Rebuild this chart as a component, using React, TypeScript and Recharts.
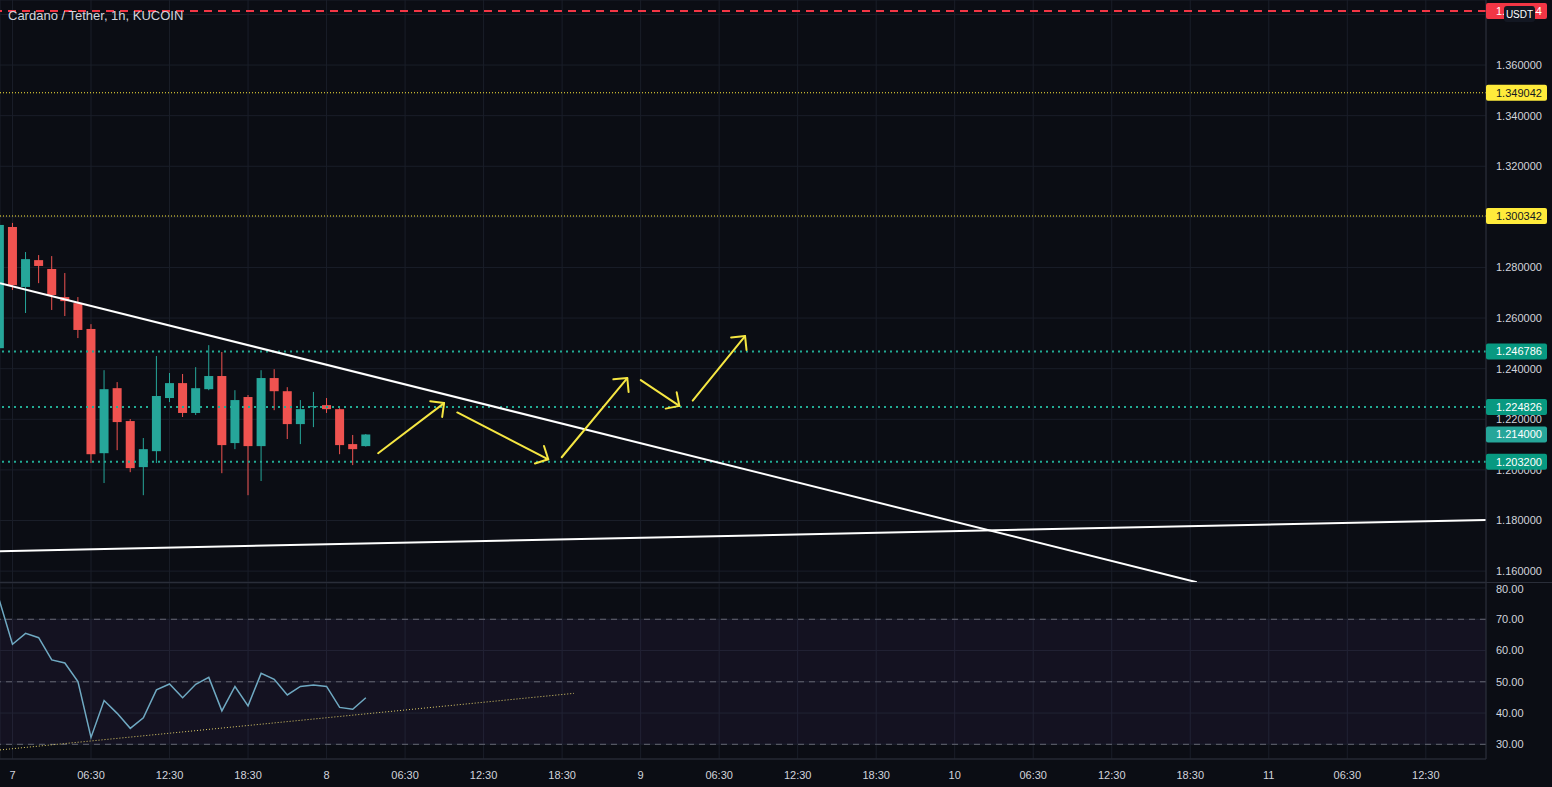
import { ComposedChart, Bar, Line, XAxis, YAxis, CartesianGrid, ReferenceLine, ReferenceArea } from 'recharts';

// ---- time axis (hours from day 7 00:00) ----
const X_MIN = -0.955;
const X_MAX = 112.6;
const xTicks = [0, 6, 12, 18, 24, 30, 36, 42, 48, 54, 60, 66, 72, 78, 84, 90, 96, 102, 108];
const xTickLabels = ['7', '06:30', '12:30', '18:30', '8', '06:30', '12:30', '18:30', '9', '06:30', '12:30', '18:30', '10', '06:30', '12:30', '18:30', '11', '06:30', '12:30'];

// ---- candles ----
const hours = [-1, 0, 1, 2, 3, 4, 5, 6, 7, 8, 9, 10, 11, 12, 13, 14, 15, 16, 17, 18, 19, 20, 21, 22, 23, 24, 25, 26, 27];
const opens = [1.2481, 1.296, 1.2723, 1.2829, 1.2794, 1.2683, 1.2659, 1.2557, 1.2066, 1.2323, 1.2193, 1.2011, 1.2074, 1.2284, 1.2343, 1.2225, 1.2319, 1.2371, 1.2106, 1.2288, 1.2094, 1.2363, 1.2311, 1.2181, 1.2248, 1.2256, 1.224, 1.2102, 1.2094];
const highs = [1.2975, 1.2976, 1.2861, 1.2849, 1.2845, 1.2778, 1.2683, 1.2576, 1.2394, 1.2347, 1.2201, 1.2126, 1.245, 1.2383, 1.2379, 1.2406, 1.2493, 1.2466, 1.2315, 1.2296, 1.2394, 1.2398, 1.2327, 1.2276, 1.2308, 1.2284, 1.2244, 1.2138, 1.2142];
const lows = [1.2475, 1.2711, 1.262, 1.2738, 1.2632, 1.2608, 1.2521, 1.2027, 1.1948, 1.2078, 1.1991, 1.19, 1.2027, 1.2268, 1.2209, 1.2217, 1.2315, 1.1987, 1.2082, 1.19, 1.1956, 1.2236, 1.2122, 1.2102, 1.2169, 1.2225, 1.2062, 1.2019, 1.2092];
const closes = [1.2968, 1.273, 1.2833, 1.2806, 1.2691, 1.2667, 1.2553, 1.2062, 1.2319, 1.2189, 1.2007, 1.2082, 1.2292, 1.2343, 1.2225, 1.2323, 1.2371, 1.2098, 1.2276, 1.2094, 1.2363, 1.2311, 1.2181, 1.224, 1.2252, 1.224, 1.2098, 1.2082, 1.214];

// ---- RSI ----
const rsiValues = [76.0, 62.0, 65.5, 64.1, 57.0, 56.0, 50.1, 32.2, 44.0, 39.9, 35.1, 38.5, 47.4, 49.3, 44.9, 49.2, 51.4, 40.7, 48.5, 42.3, 52.7, 50.8, 45.8, 48.5, 49.0, 48.5, 41.8, 41.2, 44.9];
const rsiTicks = [30, 40, 50, 60, 70, 80];
const rsiBands = [30, 50, 70];
const rsiTrend = [{ t: -0.955, v: 28.2 }, { t: 42.9, v: 46.3 }];

// ---- price axis & levels ----
const PRICE_DOMAIN = [1.1557, 1.3857];
const priceTicks = [1.16, 1.18, 1.2, 1.22, 1.24, 1.26, 1.28, 1.3, 1.32, 1.34, 1.36, 1.38];
const yellowLevels = [1.349042, 1.300342];
const greenLevels = [1.246786, 1.224826, 1.2032];
const lastPrice = 1.214;
const alertPrice = 1.381344;

// ---- drawings (time, price) ----
const trendDown = [{ t: -0.955, p: 1.2738 }, { t: 90.5, p: 1.1556 }];
const trendFlat = [{ t: -0.955, p: 1.1679 }, { t: 112.6, p: 1.1802 }];
const arrows = [
  [{ t: 27.94, p: 1.2066 }, { t: 32.98, p: 1.2264 }],
  [{ t: 33.99, p: 1.2227 }, { t: 40.94, p: 1.2042 }],
  [{ t: 41.97, p: 1.205 }, { t: 46.98, p: 1.2363 }],
  [{ t: 48.01, p: 1.2355 }, { t: 50.96, p: 1.2253 }],
  [{ t: 51.98, p: 1.2274 }, { t: 55.98, p: 1.2529 }],
];

const BG = '#0b0d14';
const GRID = '#1a1e29';
const BORDER = '#2a2e39';
const TEXT = '#d1d4dc';
const UP = '#26a69a';
const DOWN = '#ef5350';
const FONT = '"Liberation Sans", Arial, sans-serif';

const candles = hours.map((t, i) => ({
  t,
  range: [lows[i], highs[i]],
  open: opens[i],
  close: closes[i],
  high: highs[i],
  low: lows[i],
}));

const rsiData = hours.map((t, i) => ({ t, rsi: rsiValues[i] }));

function Candle(props: any) {
  const { x, y, width, height, payload } = props;
  if (x == null || y == null) return null;
  const span = payload.high - payload.low || 1e-9;
  const k = height / span;
  const yOpen = y + (payload.high - payload.open) * k;
  const yClose = y + (payload.high - payload.close) * k;
  const up = payload.close >= payload.open;
  const color = up ? UP : DOWN;
  const top = Math.min(yOpen, yClose);
  const h = Math.max(1, Math.abs(yOpen - yClose));
  const cx = x + width / 2;
  return (
    <g>
      <line x1={cx} x2={cx} y1={y} y2={y + height} stroke={color} strokeWidth={1} />
      <rect x={x} y={top} width={width} height={h} fill={color} />
    </g>
  );
}

function ArrowShape(props: any) {
  const { x1, y1, x2, y2 } = props;
  if ([x1, y1, x2, y2].some((v) => v == null || Number.isNaN(v))) return null;
  const a = Math.atan2(y2 - y1, x2 - x1);
  const len = 14;
  const w1x = x2 - len * Math.cos(a - Math.PI / 4);
  const w1y = y2 - len * Math.sin(a - Math.PI / 4);
  const w2x = x2 - len * Math.cos(a + Math.PI / 4);
  const w2y = y2 - len * Math.sin(a + Math.PI / 4);
  return (
    <g stroke="#f5e642" strokeWidth={2} fill="none" strokeLinecap="round" strokeLinejoin="round">
      <line x1={x1} y1={y1} x2={x2} y2={y2} />
      <polyline points={`${w1x},${w1y} ${x2},${y2} ${w2x},${w2y}`} />
    </g>
  );
}

const priceTag = (text: string, bg: string, fg: string) => (props: any) => {
  const vb = props.viewBox || {};
  const x = (vb.x ?? 0) + (vb.width ?? 0);
  const y = vb.y ?? 0;
  return (
    <g>
      <rect x={x} y={y - 8} width={61} height={16} fill={bg} rx={2} />
      <text x={x + 10} y={y} dy="0.36em" fill={fg} fontSize={11} fontFamily={FONT}>
        {text}
      </text>
    </g>
  );
};

const alertTag = (props: any) => {
  const vb = props.viewBox || {};
  const x = (vb.x ?? 0) + (vb.width ?? 0);
  const y = vb.y ?? 0;
  return (
    <g>
      <rect x={x} y={y - 8} width={61} height={16} fill="#f23645" rx={2} />
      <text x={x + 10} y={y} dy="0.36em" fill="#ffffff" fontSize={11} fontFamily={FONT}>
        {alertPrice.toFixed(6)}
      </text>
      <rect x={x + 18} y={y - 5} width={31} height={16} fill="#131722" rx={3} />
      <text x={x + 33.5} y={y + 3} dy="0.36em" fill="#ffffff" fontSize={10} fontFamily={FONT} textAnchor="middle">
        USDT
      </text>
    </g>
  );
};

export default function App() {
  return (
    <div style={{ position: 'absolute', left: 0, top: 0, width: 1552, height: 787, background: BG, overflow: 'hidden', fontFamily: FONT }}>
      <ComposedChart width={1552} height={582} data={candles} margin={{ top: 0, right: 0, left: 0, bottom: 0 }} style={{ background: BG }}>
        <CartesianGrid stroke={GRID} strokeWidth={1} />
        <XAxis type="number" dataKey="t" domain={[X_MIN, X_MAX]} ticks={xTicks} allowDataOverflow hide />
        <YAxis
          orientation="right"
          width={66}
          type="number"
          domain={PRICE_DOMAIN}
          ticks={priceTicks}
          allowDataOverflow
          tickFormatter={(v: number) => v.toFixed(6)}
          tick={{ fill: TEXT, fontSize: 11, fontFamily: FONT }}
          tickLine={false}
          tickMargin={4}
          axisLine={{ stroke: BORDER }}
        />
        <ReferenceLine y={alertPrice} stroke="#f23645" strokeWidth={2} strokeDasharray="8 6" />
        {yellowLevels.map((p) => (
          <ReferenceLine key={p} y={p} stroke="#ffeb3b" strokeWidth={1} strokeDasharray="1 2" />
        ))}
        {greenLevels.map((p) => (
          <ReferenceLine key={p} y={p} stroke="#22ab94" strokeWidth={2} strokeDasharray="2 4" />
        ))}
        <Bar dataKey="range" barSize={9} shape={<Candle />} isAnimationActive={false} />
        <ReferenceLine segment={trendDown.map((d) => ({ x: d.t, y: d.p }))} stroke="#ffffff" strokeWidth={2} ifOverflow="hidden" />
        <ReferenceLine segment={trendFlat.map((d) => ({ x: d.t, y: d.p }))} stroke="#ffffff" strokeWidth={2} ifOverflow="hidden" />
        {arrows.map((seg, i) => (
          <ReferenceLine key={i} segment={seg.map((d) => ({ x: d.t, y: d.p }))} shape={ArrowShape} ifOverflow="visible" />
        ))}
      </ComposedChart>

      {/* price tags drawn on top of the axis labels */}
      <div style={{ position: 'absolute', left: 0, top: 0, pointerEvents: 'none' }}>
        <ComposedChart width={1552} height={582} data={candles} margin={{ top: 0, right: 66, left: 0, bottom: 0 }}>
          <XAxis type="number" dataKey="t" domain={[X_MIN, X_MAX]} allowDataOverflow hide />
          <YAxis type="number" domain={PRICE_DOMAIN} allowDataOverflow hide />
          <ReferenceLine y={alertPrice} stroke="none" label={alertTag} />
          {yellowLevels.map((p) => (
            <ReferenceLine key={p} y={p} stroke="none" label={priceTag(p.toFixed(6), '#ffeb3b', '#131722')} />
          ))}
          {greenLevels.map((p) => (
            <ReferenceLine key={p} y={p} stroke="none" label={priceTag(p.toFixed(6), '#089981', '#ffffff')} />
          ))}
          <ReferenceLine y={lastPrice} stroke="none" label={priceTag(lastPrice.toFixed(6), '#26a69a', '#ffffff')} />
        </ComposedChart>
      </div>

      <div style={{ borderTop: `1px solid ${BORDER}` }}>
        <ComposedChart width={1552} height={204} data={rsiData} margin={{ top: 0, right: 0, left: 0, bottom: 0 }}>
          <ReferenceArea y1={30} y2={70} fill="#7e57c2" fillOpacity={0.08} stroke="none" ifOverflow="hidden" />
          <CartesianGrid stroke={GRID} strokeWidth={1} />
          <XAxis
            type="number"
            dataKey="t"
            domain={[X_MIN, X_MAX]}
            ticks={xTicks}
            allowDataOverflow
            height={28}
            tickFormatter={(v: number) => xTickLabels[xTicks.indexOf(v)] ?? ''}
            tick={{ fill: TEXT, fontSize: 11, fontFamily: FONT }}
            tickLine={false}
            tickMargin={6}
            axisLine={{ stroke: BORDER }}
          />
          <YAxis
            orientation="right"
            width={66}
            type="number"
            domain={[25.3, 81.6]}
            ticks={rsiTicks}
            allowDataOverflow
            tickFormatter={(v: number) => v.toFixed(2)}
            tick={{ fill: TEXT, fontSize: 11, fontFamily: FONT }}
            tickLine={false}
            tickMargin={4}
            axisLine={{ stroke: BORDER }}
          />
          {rsiBands.map((v) => (
            <ReferenceLine key={v} y={v} stroke="#787b86" strokeOpacity={0.8} strokeDasharray="6 5" />
          ))}
          <ReferenceLine segment={rsiTrend.map((d) => ({ x: d.t, y: d.v }))} stroke="#e0cf6a" strokeWidth={1} strokeDasharray="1 2" ifOverflow="hidden" />
          <Line type="linear" dataKey="rsi" stroke="#6fa9c2" strokeWidth={1.5} dot={false} isAnimationActive={false} />
        </ComposedChart>
      </div>
      <div style={{ position: 'absolute', left: 8, top: 8, color: TEXT, fontSize: 13, lineHeight: '16px' }}>
        Cardano / Tether, 1h, KUCOIN
      </div>
    </div>
  );
}
